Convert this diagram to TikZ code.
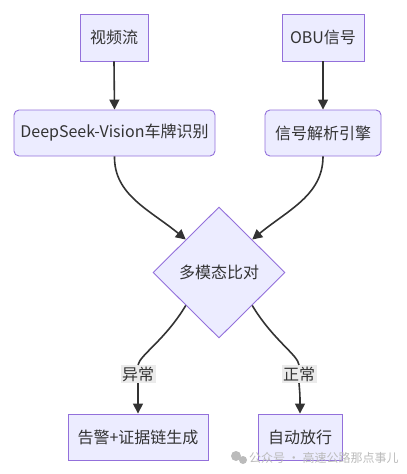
\documentclass[tikz,border=0pt]{standalone}
\usepackage{fontspec}
\setmainfont{Noto Sans CJK SC}
\usetikzlibrary{shapes.geometric,arrows.meta}
\definecolor{boxfill}{HTML}{ECECFF}
\definecolor{boxline}{HTML}{9370DB}
\definecolor{ink}{HTML}{333333}
\definecolor{lblbg}{HTML}{E8E8E8}
\definecolor{wm}{HTML}{BBBBBB}
\tikzset{
  base/.style={draw=boxline, fill=boxfill, line width=0.9pt, text=ink,
    font=\fontsize{16}{19}\selectfont, inner sep=0pt, anchor=center},
  sqbox/.style={base, rectangle},
  rbox/.style={base, rectangle, rounded corners=5pt},
  dia/.style={base, diamond, aspect=1, minimum width=132pt, minimum height=131pt},
  conn/.style={draw=ink, line width=1.6pt, -{Triangle[length=10pt,width=10pt]}},
  plain/.style={draw=ink, line width=1.6pt},
  lbl/.style={fill=lblbg, fill opacity=0.85, text opacity=1, text=ink,
    font=\fontsize{16}{19}\selectfont, inner sep=1.5pt},
  wmark/.style={text=wm, font=\fontsize{12}{14}\selectfont, inner sep=0pt}
}
\begin{document}
\begin{tikzpicture}[x=1pt, y=-1pt]
\useasboundingbox (0,0) rectangle (407,474);
\node[sqbox, minimum width=68pt, minimum height=47pt] (v) at (114,37.5) {视频流};
\node[sqbox, minimum width=82pt, minimum height=47pt] (o) at (323,37.5) {OBU信号};
\node[rbox, minimum width=201pt, minimum height=46pt] (d) at (114.5,133) {DeepSeek-Vision车牌识别};
\node[rbox, minimum width=116pt, minimum height=46pt] (s) at (323,133) {信号解析引擎};
\node[dia] (m) at (219,272.5) {多模态比对};
\node[sqbox, minimum width=140pt, minimum height=46pt] (a) at (138,437) {告警+证据链生成};
\node[sqbox, minimum width=84pt, minimum height=46pt] (p) at (300,437) {自动放行};

\draw[conn] (v.south) -- (d.north);
\draw[conn] (o.south) -- (s.north);
\draw[conn] (d.south) .. controls (114,195) and (150,210) .. (m.north west);
\draw[conn] (s.south) .. controls (323,195) and (288,210) .. (m.north east);

\node[lbl] (l1) at (138,374) {异常};
\node[lbl] (l2) at (299,374) {正常};
\draw[plain] (m.south west) .. controls (165,340) and (140,355) .. (l1.north);
\draw[conn] (l1.south) .. controls (138,395) .. (a.north);
\draw[plain] (m.south east) .. controls (273,340) and (298,355) .. (l2.north);
\draw[conn] (l2.south) .. controls (300,395) .. (p.north);

\fill[wm] (236,456) circle (5pt);
\fill[wm] (243,460) circle (4pt);
\node[wmark, anchor=west] (w) at (249,458) {公众号 · 高速公路那点事儿};
\end{tikzpicture}
\end{document}
